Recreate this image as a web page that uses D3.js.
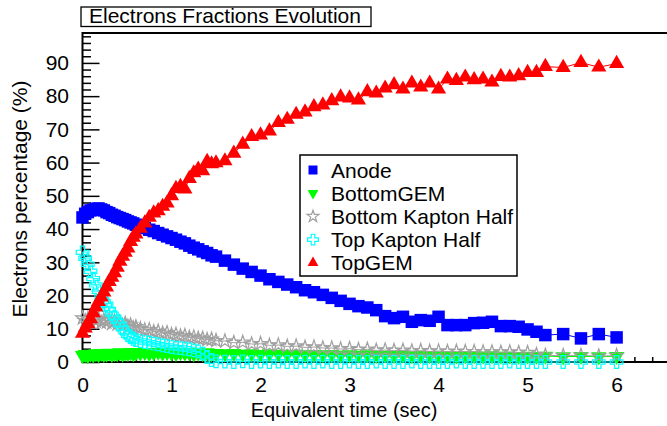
<!DOCTYPE html>
<meta charset="utf-8">
<style>
    body { margin: 0; background: #fff; }
    svg text { font-family: "Liberation Sans", Arial, Helvetica, sans-serif; fill: #000; }
</style>
<script src="https://d3js.org/d3.v7.min.js"></script>
<div id="my_dataviz"></div>
<script>

// time samples (sec), shared by every series
var time = [0, 0.03, 0.06, 0.09, 0.12, 0.15, 0.18, 0.21, 0.24, 0.27, 0.30, 0.33, 0.36, 0.39, 0.42, 0.45, 0.48, 0.51, 0.54, 0.57, 0.60,
    0.65, 0.70, 0.75, 0.80, 0.85, 0.90, 0.95, 1.00, 1.05, 1.10, 1.15, 1.20, 1.25, 1.30, 1.35, 1.40, 1.45, 1.50,
    1.6, 1.7, 1.8, 1.9, 2.0, 2.1, 2.2, 2.3, 2.4, 2.5, 2.6, 2.7, 2.8, 2.9, 3.0, 3.1, 3.2, 3.3, 3.4, 3.5, 3.6, 3.7, 3.8, 3.9,
    4.0, 4.1, 4.2, 4.3, 4.4, 4.5, 4.6, 4.7, 4.8, 4.9, 5.0,
    5.1, 5.2, 5.4, 5.6, 5.8, 6.0];

var anode = [43.5, 44.6, 45.1, 45.6, 45.8, 46.1, 46.2, 45.9, 45.6, 45.1, 44.8, 44.3, 44.0, 43.6, 43.3, 43.0, 42.7, 42.3, 42.0, 41.7, 41.3,
    40.8, 40.3, 39.8, 39.4, 38.8, 38.3, 37.8, 37.3, 36.8, 36.2, 35.7, 35.0, 34.4, 33.9, 33.3, 32.8, 32.1, 31.7,
    30.5, 29.3, 28.1, 27.1, 26.0, 24.9, 24.1, 23.3, 22.5, 21.6, 21.0, 20.2, 19.3, 18.4, 17.5, 16.8, 16.4, 15.6, 13.8, 13.2, 13.6, 12.1, 12.6, 12.4,
    13.6, 11.1, 11.1, 11.1, 11.7, 11.8, 12.1, 10.8, 10.8, 10.6, 9.8,
    9.1, 8.1, 8.4, 7.1, 8.4, 7.4];

var bottomGEM = [2.0, 2.3, 1.9, 2.4, 2.1, 2.5, 2.2, 2.6, 2.3, 2.4, 2.7, 2.3, 2.6, 2.5, 2.8, 2.4, 2.7, 2.6, 2.9, 2.5, 2.8,
    2.7, 2.9, 2.6, 2.8, 3.0, 2.7, 2.9, 2.8, 2.6, 2.9, 2.7, 2.8, 2.5, 2.7, 2.6, 2.8, 2.5, 2.6,
    2.5, 2.6, 2.4, 2.5, 2.3, 2.5, 2.4, 2.3, 2.4, 2.2, 2.3, 2.2, 2.3, 2.1, 2.2, 2.1, 2.2, 2.0, 2.1, 2.0, 2.1, 1.9, 2.0, 2.0,
    1.9, 2.0, 1.8, 1.9, 1.9, 1.8, 1.9, 1.8, 1.8, 1.7, 1.8,
    1.7, 1.8, 1.6, 1.7, 1.6, 1.7];

var bottomKapton = [13.2, 12.4, 13.0, 12.1, 12.9, 12.3, 13.1, 11.9, 12.6, 12.0, 12.7, 11.6, 12.3, 11.4, 12.0, 11.0, 11.6, 10.7, 11.1, 10.3, 10.6,
    10.0, 9.6, 9.7, 9.1, 9.2, 8.6, 8.8, 8.2, 8.3, 7.8, 7.9, 7.4, 7.5, 7.1, 7.1, 6.7, 6.8, 6.4,
    6.3, 5.8, 5.9, 5.4, 5.5, 5.0, 5.1, 4.7, 4.8, 4.4, 4.5, 4.2, 4.2, 3.9, 4.0, 3.7, 3.8, 3.5, 3.6, 3.4, 3.5, 3.3, 3.4, 3.2,
    3.3, 3.1, 3.2, 3.1, 3.1, 3.0, 3.0, 2.9, 3.0, 2.8, 2.8,
    2.2, 2.0, 1.9, 2.0, 1.8, 1.9];

var topKapton = [33.0, 31.2, 29.4, 27.3, 25.1, 23.2, 21.3, 19.6, 18.2, 17.4, 15.8, 14.4, 13.5, 12.3, 11.4, 10.0, 9.1, 8.0, 7.5, 7.0, 6.6,
    6.3, 6.0, 5.8, 5.5, 5.3, 5.0, 4.8, 4.5, 4.3, 4.2, 4.0, 3.8, 3.5, 3.2, 2.5, 1.5, 0.6, 0.2,
    0.1, 0.0, 0.2, 0.0, 0.1, 0.0, 0.1, 0.0, 0.0, 0.1, 0.0, 0.1, 0.0, 0.0, 0.1, 0.0, 0.0, 0.1, 0.0, 0.0, 0.0, 0.1, 0.0, 0.0,
    0.0, 0.0, 0.1, 0.0, 0.0, 0.0, 0.0, 0.0, 0.1, 0.0, 0.0,
    0.0, 0.0, 0.0, 0.0, 0.0, 0.0];

var topGEM = [8.6, 10.2, 11.5, 13.0, 14.8, 16.5, 18.2, 19.5, 21.0, 22.5, 24.2, 25.5, 26.8, 28.5, 30.3, 31.8, 33.0, 34.3, 36.2, 37.5, 38.5,
    40.2, 41.8, 43.5, 44.8, 45.5, 46.8, 47.8, 50.0, 52.2, 52.8, 52.0, 55.2, 56.9, 58.0, 57.5, 60.3, 59.6, 59.9,
    60.5, 62.8, 65.5, 67.8, 68.3, 69.5, 72.0, 73.0, 74.5, 75.2, 76.8, 77.3, 78.6, 79.7, 79.4, 78.8, 81.3, 80.9, 82.4, 83.4, 82.1, 83.9, 82.7, 83.9,
    82.1, 85.1, 84.7, 85.7, 84.9, 85.1, 84.2, 85.9, 85.7, 86.1, 87.1,
    87.1, 88.9, 88.6, 90.1, 88.7, 89.8];

var seriesNames = ["Anode", "BottomGEM", "Bottom Kapton Half", "Top Kapton Half", "TopGEM"];
var seriesValues = [anode, bottomGEM, bottomKapton, topKapton, topGEM];

var xTicks = [0, 1, 2, 3, 4, 5, 6];
var yTicks = [0, 10, 20, 30, 40, 50, 60, 70, 80, 90];

// marker look of each series (ROOT style markers)
var markerStyle = [
    {color: "#0000ff", type: d3.symbolSquare,   size: 156, legendSize: 81, filled: true,  rotate: 0},
    {color: "#00ff00", type: d3.symbolTriangle, size: 100, legendSize: 50, filled: true,  rotate: 180},
    {color: "#a0a0a0", type: d3.symbolStar,     size: 58,  legendSize: 44, filled: false, rotate: 0},
    {color: "#00ffff", type: d3.symbolCross,    size: 88,  legendSize: 64, filled: false, rotate: 0},
    {color: "#ff0000", type: d3.symbolTriangle, size: 100, legendSize: 50, filled: true,  rotate: 0}
];

var W = 667, H = 426;
var svg = d3.select("#my_dataviz").append("svg")
    .attr("width", W)
    .attr("height", H);
svg.append("rect").attr("width", W).attr("height", H).attr("fill", "#fff");

var x = d3.scaleLinear().domain([0, 6.6]).range([82.5, 670]);
var y = d3.scaleLinear().domain([0, 99]).range([362, 33]);

// minor ticks
var xMinor = d3.range(0, 6.61, 0.2).filter(function (v) { return Math.abs(v - Math.round(v)) > 0.01; });
var yMinor = d3.range(0, 99, 2).filter(function (v) { return v % 10 !== 0; });

svg.append("g")
    .attr("transform", "translate(0," + y(0) + ")")
    .call(d3.axisBottom(x).tickValues(xMinor).tickSize(-5).tickFormat(""))
    .call(function (g) { g.select(".domain").remove(); });
svg.append("g")
    .attr("transform", "translate(" + x(0) + ",0)")
    .call(d3.axisLeft(y).tickValues(yMinor).tickSize(-8.5).tickFormat(""))
    .call(function (g) { g.select(".domain").remove(); });

// major ticks with labels
var gx = svg.append("g")
    .attr("transform", "translate(0," + y(0) + ")")
    .call(d3.axisBottom(x).tickValues(xTicks).tickSize(-10).tickPadding(15).tickFormat(d3.format("d")));
gx.select(".domain").remove();
gx.selectAll("text").style("font-size", "21px");

var gy = svg.append("g")
    .attr("transform", "translate(" + x(0) + ",0)")
    .call(d3.axisLeft(y).tickValues(yTicks).tickSize(-17).tickPadding(13.5).tickFormat(d3.format("d")));
gy.select(".domain").remove();
gy.selectAll("text").style("font-size", "21px");

svg.selectAll(".tick line").attr("stroke", "#000").attr("stroke-width", 1.5);

// frame (right side is outside the picture)
svg.append("path")
    .attr("d", "M" + (W + 5) + "," + y(99) + "H" + x(0) + "V" + y(0) + "H" + (W + 5))
    .attr("fill", "none")
    .attr("stroke", "#000")
    .attr("stroke-width", 2);

// axis titles
svg.append("text")
    .attr("x", 344)
    .attr("y", 416.5)
    .attr("text-anchor", "middle")
    .style("font-size", "20px")
    .text("Equivalent time (sec)");

svg.append("text")
    .attr("transform", "translate(27,199) rotate(-90)")
    .attr("text-anchor", "middle")
    .style("font-size", "21px")
    .text("Electrons percentage (%)");

// title box
svg.append("rect")
    .attr("x", 81).attr("y", 7)
    .attr("width", 290).attr("height", 19.5)
    .attr("fill", "#fff")
    .attr("stroke", "#000")
    .attr("stroke-width", 1.3);
svg.append("text")
    .attr("x", 89)
    .attr("y", 23.3)
    .style("font-size", "21px")
    .text("Electrons Fractions Evolution");

function markerPath(st, size) {
    return d3.symbol().type(st.type).size(size)();
}

// series: line then markers, in legend order
seriesValues.forEach(function (vals, i) {
    var st = markerStyle[i];
    var pts = time.map(function (t, j) { return [t, vals[j]]; });

    svg.append("path")
        .datum(pts)
        .attr("fill", "none")
        .attr("stroke", st.color)
        .attr("stroke-width", 1)
        .attr("d", d3.line()
            .x(function (d) { return x(d[0]); })
            .y(function (d) { return y(d[1]); }));

    svg.append("g").selectAll("path")
        .data(pts)
        .enter().append("path")
        .attr("d", markerPath(st, st.size))
        .attr("transform", function (d) {
            return "translate(" + x(d[0]) + "," + y(d[1]) + ") rotate(" + st.rotate + ")";
        })
        .attr("fill", st.filled ? st.color : "none")
        .attr("stroke", st.color)
        .attr("stroke-width", st.filled ? 0 : 1.2);
});

// legend
var legend = svg.append("g");
legend.append("rect")
    .attr("x", 300).attr("y", 155)
    .attr("width", 217).attr("height", 121)
    .attr("fill", "#fff")
    .attr("stroke", "#000")
    .attr("stroke-width", 1.5);

seriesNames.forEach(function (name, i) {
    var st = markerStyle[i];
    var cy = 170 + i * 23.2;
    legend.append("path")
        .attr("d", markerPath(st, st.legendSize))
        .attr("transform", "translate(313," + cy + ") rotate(" + st.rotate + ")")
        .attr("fill", st.filled ? st.color : "#fff")
        .attr("stroke", st.color)
        .attr("stroke-width", st.filled ? 0 : 1.2);
    legend.append("text")
        .attr("x", 331)
        .attr("y", cy + 7.5)
        .style("font-size", "21px")
        .text(name);
});

</script>
</html>
